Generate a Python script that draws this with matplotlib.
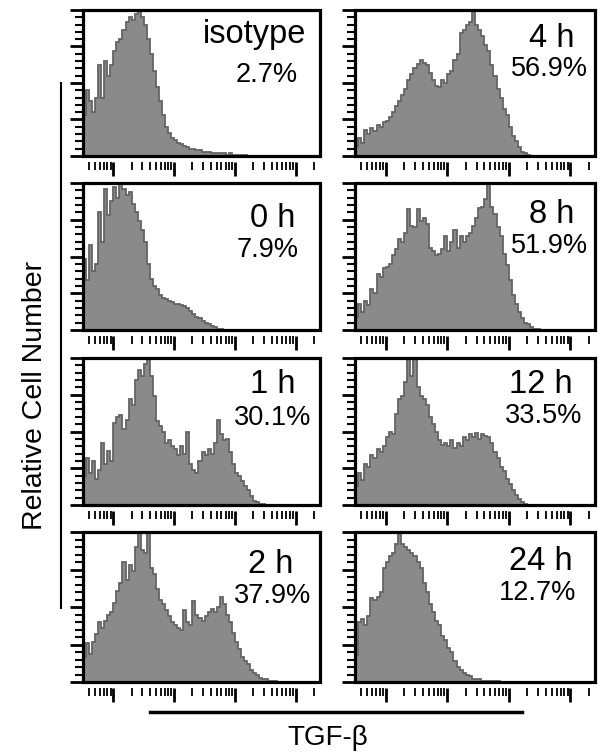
import matplotlib
matplotlib.use("Agg")
import matplotlib.pyplot as plt
import matplotlib.ticker as mticker
from matplotlib.patches import Rectangle
from matplotlib.lines import Line2D
import numpy as np

plt.rcParams['font.family'] = ['Liberation Sans', 'DejaVu Sans']

# histogram counts (% of max), bins of 0.05 decade starting at 10^0.5
isotype = [28, 45, 38, 30, 40, 62, 40, 65, 55, 62, 72, 78, 80, 86, 92, 95, 93, 97, 100, 95,
           90, 80, 70, 58, 47, 38, 28, 20, 16, 12, 11, 9, 8, 7, 6, 5, 5, 4, 4, 3,
           3, 3, 2, 2, 2, 2, 2, 1, 2, 1, 1, 1, 1, 1]
h0 = [48, 34, 58, 40, 45, 80, 60, 96, 78, 88, 97, 90, 100, 96, 92, 94, 86, 80, 74, 68,
      60, 45, 35, 30, 28, 24, 22, 21, 20, 19, 18, 18, 17, 16, 15, 13, 11, 9, 8, 6,
      5, 4, 3, 2, 1, 1]
h1 = [20, 32, 22, 30, 18, 24, 42, 28, 37, 30, 56, 60, 61, 52, 58, 72, 68, 85, 92, 88,
      96, 100, 88, 74, 57, 54, 50, 42, 44, 40, 38, 34, 40, 35, 50, 28, 24, 22, 30, 36,
      34, 38, 35, 42, 58, 48, 44, 45, 36, 28, 22, 20, 16, 13, 10, 6, 3, 2, 1, 1]
h2 = [17, 26, 19, 27, 32, 40, 36, 41, 45, 47, 53, 61, 66, 80, 68, 78, 74, 90, 100, 88,
      86, 100, 76, 72, 62, 55, 52, 48, 44, 40, 38, 36, 35, 48, 40, 38, 54, 45, 43, 41,
      44, 47, 49, 47, 50, 57, 52, 45, 40, 33, 27, 22, 17, 14, 12, 8, 6, 5, 3, 2,
      2, 1, 1, 1]
h4 = [7, 12, 9, 18, 15, 19, 17, 21, 20, 23, 24, 27, 30, 34, 38, 42, 46, 52, 56, 60,
      63, 66, 64, 62, 57, 52, 48, 47, 52, 50, 56, 58, 66, 70, 84, 86, 90, 92, 100, 90,
      86, 82, 76, 72, 62, 55, 46, 40, 32, 28, 20, 14, 10, 6, 3, 2, 1]
h8 = [9, 18, 12, 20, 17, 28, 25, 38, 36, 42, 43, 45, 51, 55, 62, 60, 66, 82, 71, 70,
      82, 74, 76, 72, 56, 54, 51, 52, 55, 64, 54, 60, 68, 56, 64, 60, 64, 66, 71, 76,
      83, 84, 89, 100, 84, 79, 70, 64, 52, 44, 34, 24, 18, 12, 8, 5, 4, 2, 1, 1]
h12 = [13, 22, 17, 28, 26, 34, 32, 38, 36, 40, 46, 50, 48, 62, 72, 74, 84, 100, 88, 100,
       80, 74, 72, 68, 60, 55, 50, 44, 41, 42, 40, 44, 39, 42, 40, 46, 44, 48, 46, 49,
       45, 48, 47, 46, 42, 36, 32, 26, 23, 18, 14, 10, 7, 4, 2, 1]
h24 = [18, 40, 42, 38, 44, 56, 55, 57, 60, 76, 80, 84, 86, 92, 100, 92, 90, 88, 86, 84,
       80, 76, 66, 60, 52, 47, 41, 38, 31, 28, 23, 20, 14, 10, 8, 6, 5, 4, 2, 2,
       2, 1, 1, 1, 1, 1, 1]

titles = ["isotype", "4 h", "0 h", "8 h", "1 h", "12 h", "2 h", "24 h"]
percents = ["2.7%", "56.9%", "7.9%", "51.9%", "30.1%", "33.5%", "37.9%", "12.7%"]
series = [isotype, h4, h0, h8, h1, h12, h2, h24]

# text placement (axes fraction): title x, title y, percent x, percent y
text_pos = [(0.726, 0.774, 0.776, 0.507), (0.82, 0.749, 0.81, 0.548),
            (0.80, 0.703, 0.78, 0.497), (0.82, 0.728, 0.81, 0.524),
            (0.80, 0.762, 0.80, 0.544), (0.775, 0.762, 0.785, 0.558),
            (0.79, 0.729, 0.80, 0.527), (0.775, 0.747, 0.76, 0.547)]

W, H = 608, 752
fig = plt.figure(figsize=(W / 100, H / 100), dpi=100)

cols = [(83, 320), (355, 595)]
rows = [(10, 156), (183, 330), (358, 505), (532, 682)]

for i, vals in enumerate(series):
    r, c = divmod(i, 2)
    x0, x1 = cols[c]
    y0, y1 = rows[r]
    ax = fig.add_axes([x0 / W, 1 - y1 / H, (x1 - x0) / W, (y1 - y0) / H])
    edges = 10 ** (0.5 + 0.05 * np.arange(len(vals) + 1))
    ax.stairs(vals, edges, fill=True, color="#8a8a8a", zorder=2)
    ax.stairs(vals, edges, color="#646464", linewidth=1.3, zorder=3)
    ax.set_xscale("log")
    ax.set_xlim(10 ** 0.5, 10 ** 4.4)
    ax.set_ylim(0, 100)

    ax.xaxis.set_major_locator(mticker.LogLocator(base=10))
    ax.xaxis.set_minor_locator(mticker.LogLocator(base=10, subs=np.arange(2, 10)))
    ax.xaxis.set_major_formatter(mticker.NullFormatter())
    ax.xaxis.set_minor_formatter(mticker.NullFormatter())
    ax.yaxis.set_major_locator(mticker.MultipleLocator(25))
    ax.yaxis.set_minor_locator(mticker.MultipleLocator(5))
    ax.yaxis.set_major_formatter(mticker.NullFormatter())

    for s in ax.spines.values():
        s.set_color("none")
    ax.spines["bottom"].set_position(("outward", 4))
    ax.tick_params(axis="x", which="major", direction="out", length=10, width=2.0, color="black")
    ax.tick_params(axis="x", which="minor", direction="out", length=5.8, width=1.3, color="black")
    ax.tick_params(axis="y", which="major", direction="out", length=9.4, width=2.0, color="black")
    ax.tick_params(axis="y", which="minor", direction="out", length=5.8, width=1.5, color="black")
    ax.tick_params(top=False, right=False)

    ax.add_patch(Rectangle((0, 0), 1, 1, transform=ax.transAxes, fill=False,
                           edgecolor="black", linewidth=2.3, clip_on=False, zorder=5))

    tx, ty, px, py = text_pos[i]
    ax.text(tx, ty, titles[i], transform=ax.transAxes, ha="center", va="baseline",
            fontsize=23.5, zorder=6)
    ax.text(px, py, percents[i], transform=ax.transAxes, ha="center", va="baseline",
            fontsize=19.5, zorder=6)

# axis labels with bracket lines
fig.text(35 / W, 1 - 395 / H, "Relative Cell Number", rotation=90, ha="center", va="center",
         fontsize=20.5)
fig.add_artist(Line2D([61 / W, 61 / W], [1 - 83 / H, 1 - 608 / H], color="black", linewidth=1.5))
fig.add_artist(Line2D([150 / W, 522 / W], [1 - 712 / H, 1 - 712 / H], color="black", linewidth=2.5))
fig.text(328 / W, 1 - 745 / H, "TGF-β", ha="center", va="baseline", fontsize=20)

fig.savefig("out.png", dpi=100)
